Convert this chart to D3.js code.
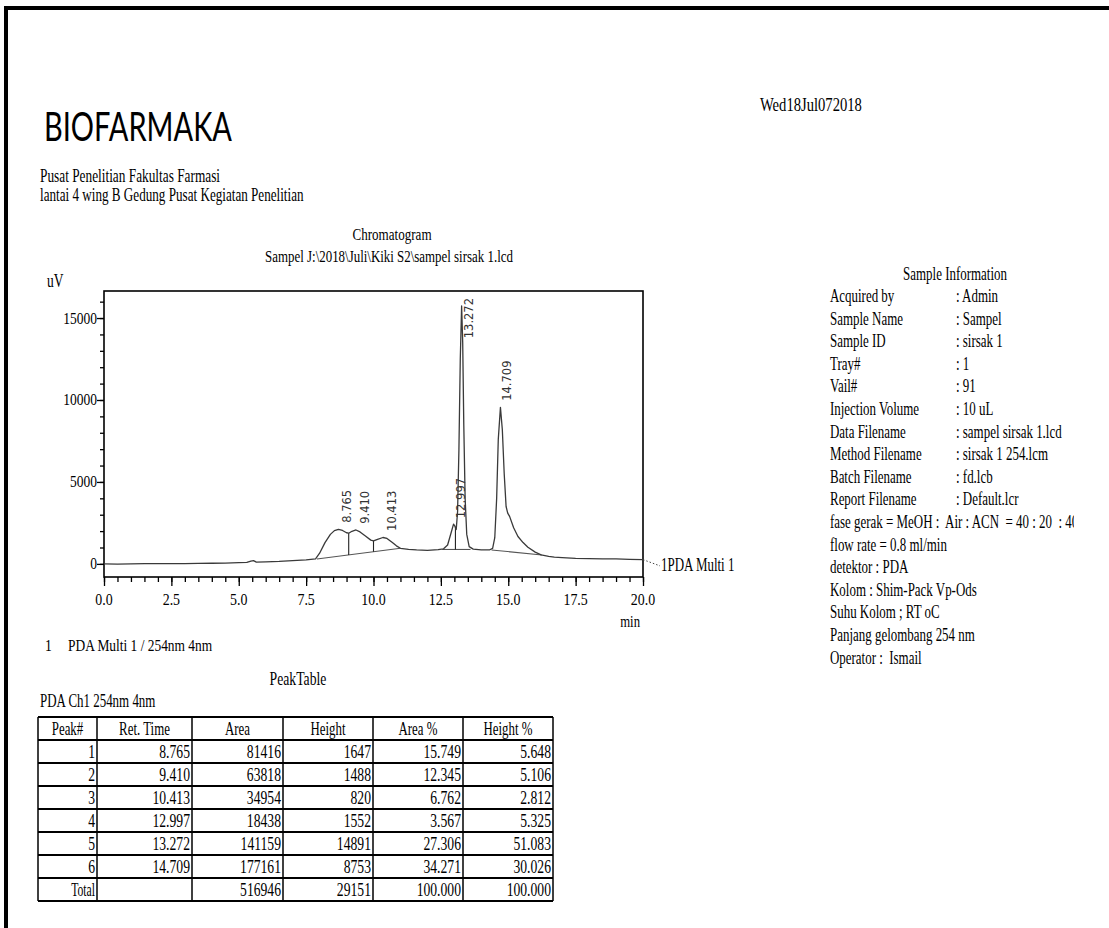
<!DOCTYPE html>
<html>
<head>
<meta charset="utf-8">
<script src="https://cdn.jsdelivr.net/npm/d3@7"></script>
<style>
  body { margin: 0; background: #fff; }
  svg { display: block; }
  text { font-family: "Liberation Serif", "Times New Roman", serif; fill: #000; white-space: pre; }
</style>
</head>
<body>
<svg id="page" width="1109" height="928"></svg>
<script>
// chromatogram trace (min, uV)
const timeMin = [0, 0.5, 1, 1.5, 2, 2.5, 3, 3.5, 4, 4.5, 5, 5.3, 5.45, 5.55, 5.65, 6, 6.5, 7, 7.5, 7.85,
  8, 8.2, 8.4, 8.55, 8.7, 8.85, 9, 9.08, 9.2, 9.35, 9.5, 9.7, 9.9, 10, 10.15, 10.35, 10.5, 10.7, 10.85,
  11, 11.3, 11.6, 12, 12.4, 12.6, 12.75, 12.88, 12.97, 13.02, 13.07, 13.12, 13.17, 13.22, 13.27, 13.31,
  13.35, 13.4, 13.46, 13.55, 13.7, 14, 14.3, 14.42, 14.5, 14.57, 14.63, 14.71, 14.78, 14.85, 14.92,
  14.98, 15.05, 15.2, 15.36, 15.55, 15.73, 16, 16.22, 16.5, 16.71, 17, 17.5, 18, 18.5, 19, 19.5, 20];
const signalUv = [0, -10, 0, 10, 20, 15, 20, 30, 40, 50, 80, 90, 170, 200, 110, 120, 150, 200, 250, 300,
  650, 1300, 1800, 2030, 2110, 2040, 1900, 1870, 1990, 2070, 1950, 1700, 1450, 1400, 1500, 1610, 1550, 1300, 1100,
  950, 880, 850, 830, 870, 920, 1150, 1900, 2430, 2300, 2100, 3200, 7000, 12500, 15740, 13500,
  8500, 4000, 1800, 1050, 900, 860, 850, 950, 1600, 4000, 7600, 9550, 8200, 5500, 3500,
  3100, 2900, 2200, 1670, 1300, 1020, 720, 550, 460, 410, 380, 340, 320, 300, 300, 280, 260];

// integration baselines and drop lines
const baseStartT = [7.9, 12.55, 14.38];
const baseStartV = [300, 880, 850];
const baseEndT = [11.0, 13.6, 16.25];
const baseEndV = [950, 880, 540];
const dropT = [9.08, 10.0, 13.04];

// peak table
const peakNo = ['1', '2', '3', '4', '5', '6'];
const retTime = [8.765, 9.410, 10.413, 12.997, 13.272, 14.709];
const peakArea = [81416, 63818, 34954, 18438, 141159, 177161];
const peakHeight = [1647, 1488, 820, 1552, 14891, 8753];
const areaPct = [15.749, 12.345, 6.762, 3.567, 27.306, 34.271];
const heightPct = [5.648, 5.106, 2.812, 5.325, 51.083, 30.026];
const tableHead = ['Peak#', 'Ret. Time', 'Area', 'Height', 'Area %', 'Height %'];

// axes ticks
const xMajor = [0, 2.5, 5, 7.5, 10, 12.5, 15, 17.5, 20];
const yMajor = [0, 5000, 10000, 15000];

// sample information block
const infoKeys = ['Acquired by', 'Sample Name', 'Sample ID', 'Tray#', 'Vail#', 'Injection Volume',
  'Data Filename', 'Method Filename', 'Batch Filename', 'Report Filename'];
const infoVals = [': Admin', ': Sampel', ': sirsak 1', ': 1', ': 91', ': 10 uL',
  ': sampel sirsak 1.lcd', ': sirsak 1 254.lcm', ': fd.lcb', ': Default.lcr'];
const infoNotes = ['fase gerak = MeOH :  Air : ACN  = 40 : 20  : 40', 'flow rate = 0.8 ml/min',
  'detektor : PDA', 'Kolom : Shim-Pack Vp-Ods', 'Suhu Kolom ; RT oC', 'Panjang gelombang 254 nm',
  'Operator :  Ismail'];

const svg = d3.select('#page');
svg.append('rect').attr('width', 1109).attr('height', 928).attr('fill', '#fff');

// page frame (top + left edge)
svg.append('rect').attr('x', 4).attr('y', 6).attr('width', 1105).attr('height', 4).attr('fill', '#000');
svg.append('rect').attr('x', 4).attr('y', 6).attr('width', 4).attr('height', 922).attr('fill', '#000');

// the printout is cut off on the right
svg.append('clipPath').attr('id', 'pageclip')
  .append('rect').attr('x', 0).attr('y', 0).attr('width', 1074).attr('height', 928);
const page = svg.append('g').attr('clip-path', 'url(#pageclip)');

// condensed serif text, like the printed report
function txt(g, x, yy, s, size, anchor, sx) {
  return g.append('text')
    .attr('transform', `translate(${x},${yy}) scale(${sx || 0.7},1)`)
    .attr('text-anchor', anchor || 'start')
    .style('font-size', size + 'px')
    .text(s);
}

// header
page.append('text').attr('x', 44).attr('y', 141)
  .attr('textLength', 188).attr('lengthAdjust', 'spacingAndGlyphs')
  .style('font-family', 'Lato, "DejaVu Sans", sans-serif').style('font-size', '41px')
  .text('BIOFARMAKA');
txt(page, 760, 111, 'Wed18Jul072018', 18.5, 'start', 0.79);
txt(page, 40, 182, 'Pusat Penelitian Fakultas Farmasi', 18.5, 'start', 0.72);
txt(page, 40, 201, 'lantai 4 wing B Gedung Pusat Kegiatan Penelitian', 18.5, 'start', 0.71);

// chart
const x = d3.scaleLinear().domain([0, 20]).range([104, 643]);
const y = d3.scaleLinear().domain([-800, 16650]).range([577, 291]);

txt(page, 392, 240, 'Chromatogram', 17.7, 'middle', 0.74);
txt(page, 389, 262, 'Sampel J:\\2018\\Juli\\Kiki S2\\sampel sirsak 1.lcd', 17.7, 'middle', 0.73);
txt(page, 47, 287, 'uV', 18, 'start', 0.75);

const chart = page.append('g');

chart.append('g').attr('transform', `translate(0,${y.range()[0]})`)
  .call(d3.axisBottom(x).tickValues(d3.range(0, 20.01, 0.5)).tickSize(5).tickFormat(''))
  .call(g => g.select('.domain').remove());
chart.append('g').attr('transform', `translate(0,${y.range()[0]})`)
  .call(d3.axisBottom(x).tickValues(xMajor).tickSize(9).tickFormat(''))
  .call(g => g.select('.domain').remove());
chart.append('g').attr('transform', `translate(${x.range()[0]},0)`)
  .call(d3.axisLeft(y).tickValues(d3.range(0, 16001, 1000)).tickSize(4).tickFormat(''))
  .call(g => g.select('.domain').remove());
chart.append('g').attr('transform', `translate(${x.range()[0]},0)`)
  .call(d3.axisLeft(y).tickValues(yMajor).tickSize(7).tickFormat(''))
  .call(g => g.select('.domain').remove());
chart.selectAll('.tick line').attr('stroke', '#000').attr('stroke-width', 1.3);

xMajor.forEach(v => txt(chart, x(v), 605, d3.format('.1f')(v), 17, 'middle', 0.82));
yMajor.forEach(v => txt(chart, x.range()[0] - 7, y(v) + 5.5, String(v), 16.5, 'end', 0.82));
txt(chart, 640, 627, 'min', 17, 'end', 0.75);

chart.append('rect')
  .attr('x', x.range()[0]).attr('y', y.range()[1])
  .attr('width', x.range()[1] - x.range()[0]).attr('height', y.range()[0] - y.range()[1])
  .attr('fill', 'none').attr('stroke', '#000').attr('stroke-width', 1.6);

const pts = timeMin.map((t, i) => [t, signalUv[i]]);
const bis = d3.bisector(d => d[0]).left;
function valAt(t) {
  const i = Math.max(1, Math.min(pts.length - 1, bis(pts, t)));
  const a = pts[i - 1], b = pts[i];
  return a[1] + (b[1] - a[1]) * (t - a[0]) / (b[0] - a[0]);
}
function baseAt(t) {
  const k = baseStartT.findIndex((s, i) => t >= s && t <= baseEndT[i]);
  return baseStartV[k] + (baseEndV[k] - baseStartV[k]) * (t - baseStartT[k]) / (baseEndT[k] - baseStartT[k]);
}

const line = d3.line().x(d => x(d[0])).y(d => y(d[1]));

chart.append('g').selectAll('line.base').data(baseStartT).join('line')
  .attr('x1', (d, i) => x(d)).attr('y1', (d, i) => y(baseStartV[i]))
  .attr('x2', (d, i) => x(baseEndT[i])).attr('y2', (d, i) => y(baseEndV[i]))
  .attr('stroke', '#555').attr('stroke-width', 1.1);

chart.append('g').selectAll('line.drop').data(dropT).join('line')
  .attr('x1', d => x(d)).attr('x2', d => x(d))
  .attr('y1', d => y(valAt(d))).attr('y2', d => y(baseAt(d)))
  .attr('stroke', '#222').attr('stroke-width', 1.1);

chart.append('path').datum(pts)
  .attr('d', line).attr('fill', 'none')
  .attr('stroke', '#3a3a3a').attr('stroke-width', 1.3).attr('stroke-linejoin', 'round');

// trace name at the right end
const endY = y(signalUv[signalUv.length - 1]);
chart.append('line').attr('x1', x.range()[1]).attr('y1', endY).attr('x2', 660).attr('y2', y(0) + 2)
  .attr('stroke', '#444').attr('stroke-dasharray', '1.5,2');
txt(chart, 661, y(0) + 7, '1PDA Multi 1', 18, 'start', 0.72);

// retention time labels
retTime.forEach(t => {
  const tx = x(t) + 11;
  let sy = y(valAt(t)) - 7;
  const lab = chart.append('text')
    .attr('text-anchor', 'start')
    .style('font-family', '"DejaVu Sans", sans-serif').style('font-size', '11.5px').style('fill', '#333')
    .text(d3.format('.3f')(t));
  const len = lab.node().getComputedTextLength();
  if (sy - len < y.range()[1] + 7) {
    lab.attr('text-anchor', 'end');
    sy = y.range()[1] + 7;
  }
  lab.attr('transform', `translate(${tx},${sy}) rotate(-90)`);
});

txt(page, 45, 651, '1', 17, 'start', 0.8);
txt(page, 68, 651, 'PDA Multi 1 / 254nm 4nm', 17, 'start', 0.79);

// peak table
txt(page, 298, 685, 'PeakTable', 18.5, 'middle', 0.74);
txt(page, 40, 707, 'PDA Ch1 254nm 4nm', 18.5, 'start', 0.7);

const colX = [38, 97, 192, 283, 373, 463, 553];
const rowTop = 717, rowH = 23;
const rows = peakNo.map((p, i) => [p, d3.format('.3f')(retTime[i]), String(peakArea[i]), String(peakHeight[i]),
  d3.format('.3f')(areaPct[i]), d3.format('.3f')(heightPct[i])]);
rows.push(['Total', '', String(d3.sum(peakArea)), String(d3.sum(peakHeight)),
  d3.format('.3f')(d3.sum(areaPct)), d3.format('.3f')(d3.sum(heightPct))]);

const tbl = page.append('g');
const nRows = rows.length + 1;
tbl.selectAll('line.h').data(d3.range(nRows + 1)).join('line')
  .attr('x1', colX[0]).attr('x2', colX[colX.length - 1])
  .attr('y1', d => rowTop + d * rowH).attr('y2', d => rowTop + d * rowH)
  .attr('stroke', '#000').attr('stroke-width', 2);
tbl.selectAll('line.v').data(colX).join('line')
  .attr('x1', d => d).attr('x2', d => d)
  .attr('y1', rowTop).attr('y2', rowTop + nRows * rowH)
  .attr('stroke', '#000').attr('stroke-width', 1.5);

tableHead.forEach((h, c) => txt(tbl, (colX[c] + colX[c + 1]) / 2, rowTop + 17.5, h, 19.5, 'middle', 0.66));
rows.forEach((r, i) => r.forEach((v, c) =>
  txt(tbl, colX[c + 1] - 2, rowTop + (i + 1) * rowH + 17.5, v, 19.5, 'end', c === 0 && i === rows.length - 1 ? 0.6 : 0.7)));

// sample information
txt(page, 955, 280, 'Sample Information', 18.5, 'middle', 0.7);
const info = page.append('g');
infoKeys.forEach((k, i) => {
  txt(info, 830, 302 + i * 22.6, k, 18.5, 'start', 0.7);
  txt(info, 956, 302 + i * 22.6, infoVals[i], 18.5, 'start', 0.7);
});
infoNotes.forEach((s, i) => txt(info, 830, 302 + (infoKeys.length + i) * 22.6, s, 18.5, 'start', 0.7));
</script>
</body>
</html>
